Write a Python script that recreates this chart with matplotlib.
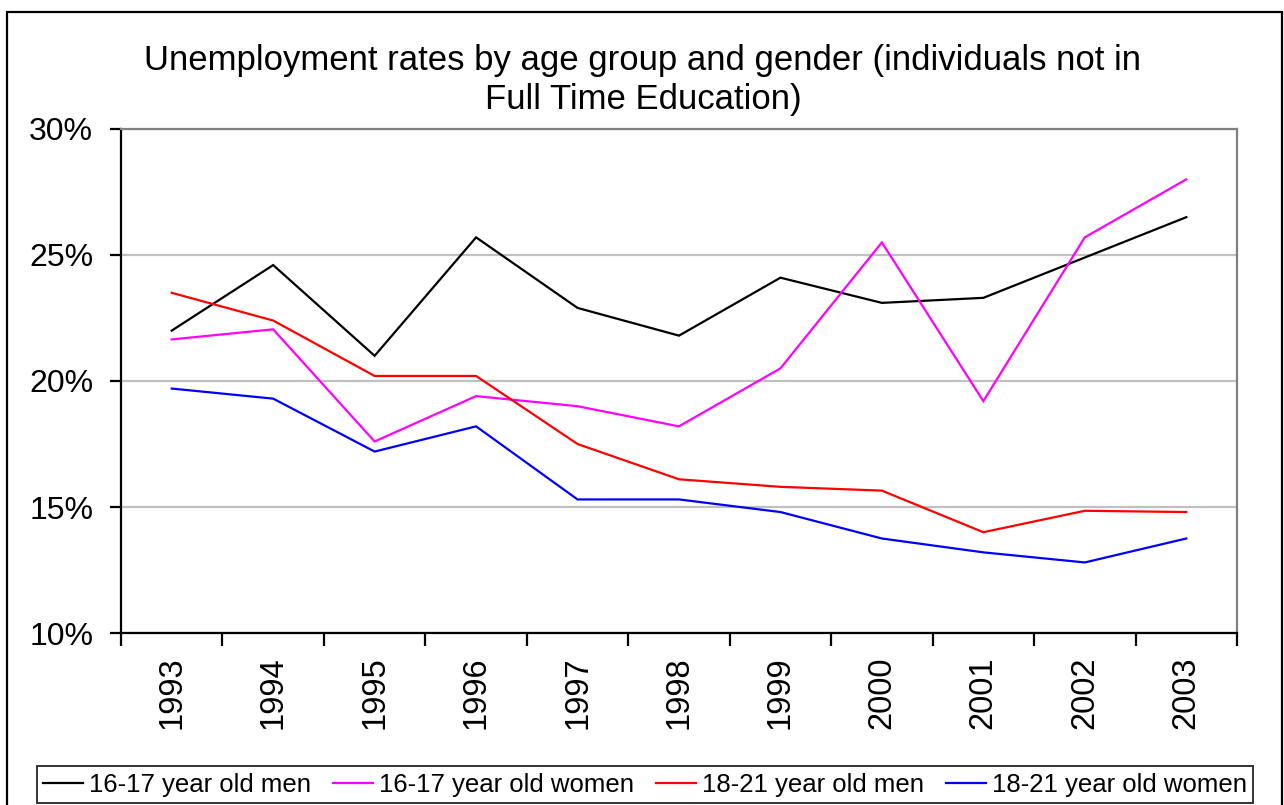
import matplotlib
matplotlib.use("Agg")
import matplotlib.pyplot as plt
from matplotlib.patches import Rectangle
from matplotlib.ticker import FixedLocator, PercentFormatter

plt.rcParams['font.family'] = ['Liberation Sans', 'DejaVu Sans']

years = ['1993', '1994', '1995', '1996', '1997', '1998', '1999', '2000', '2001', '2002', '2003']

men_16_17 = [22.0, 24.6, 21.0, 25.7, 22.9, 21.8, 24.1, 23.1, 23.3, 24.9, 26.5]
women_16_17 = [21.65, 22.05, 17.6, 19.4, 19.0, 18.2, 20.5, 25.5, 19.2, 25.7, 28.0]
men_18_21 = [23.5, 22.4, 20.2, 20.2, 17.5, 16.1, 15.8, 15.65, 14.0, 14.85, 14.8]
women_18_21 = [19.7, 19.3, 17.2, 18.2, 15.3, 15.3, 14.8, 13.75, 13.2, 12.8, 13.75]

series = [
    ('16-17 year old men', men_16_17, '#000000'),
    ('16-17 year old women', women_16_17, '#FF00FF'),
    ('18-21 year old men', men_18_21, '#FF0000'),
    ('18-21 year old women', women_18_21, '#0000FF'),
]

W, H = 1284, 805
fig = plt.figure(figsize=(W / 100, H / 100), dpi=100)
fig.patch.set_facecolor('white')

# outer chart border (runs off the bottom edge like the original)
fig.add_artist(Rectangle((7 / W, -0.02), (1282 - 7) / W, (H - 12) / H + 0.02,
                         transform=fig.transFigure, fill=False,
                         edgecolor='black', linewidth=1.6))

ax = fig.add_axes([121 / W, (H - 633) / H, (1237 - 121) / W, (633 - 129) / H])

x = list(range(len(years)))
for name, vals, col in series:
    ax.plot(x, [v / 100 for v in vals], color=col, linewidth=1.6, label=name,
            solid_joinstyle='miter')

ax.set_xlim(-0.5, len(years) - 0.5)
ax.set_ylim(0.10, 0.30)

ax.set_yticks([0.10, 0.15, 0.20, 0.25, 0.30])
ax.yaxis.set_major_formatter(PercentFormatter(1.0, decimals=0))
ax.tick_params(axis='y', direction='out', length=8, width=1.6, labelsize=23, pad=12)

ax.set_xticks(x)
ax.set_xticklabels(years, rotation=90, fontsize=23.5)
ax.xaxis.set_minor_locator(FixedLocator([i - 0.5 for i in range(len(years) + 1)]))
ax.tick_params(axis='x', which='major', length=0, pad=17)
ax.tick_params(axis='x', which='minor', direction='out', length=9, width=1.6)

ax.grid(axis='y', color='#c0c0c0', linewidth=1.6)
ax.set_axisbelow(True)
for s in ['left', 'bottom']:
    ax.spines[s].set_color('black')
    ax.spines[s].set_linewidth(1.6)
for s in ['top', 'right']:
    ax.spines[s].set_color('#808080')
    ax.spines[s].set_linewidth(1.6)

fig.text(643 / W, 1 - 80 / H,
         'Unemployment rates by age group and gender (individuals not in\nFull Time Education)',
         ha='center', va='center', fontsize=25, linespacing=1.25)

leg = fig.legend(loc='lower left', ncol=4, mode='expand',
                 bbox_to_anchor=(37 / W, 2 / H, (1253 - 37) / W, 41 / H),
                 fontsize=18.5, frameon=True, fancybox=False, handlelength=1.55,
                 handletextpad=0.23, borderpad=0.25, borderaxespad=0)
leg.get_frame().set_edgecolor('black')
leg.get_frame().set_linewidth(1.4)

fig.savefig('out.png', dpi=100, facecolor='white')
